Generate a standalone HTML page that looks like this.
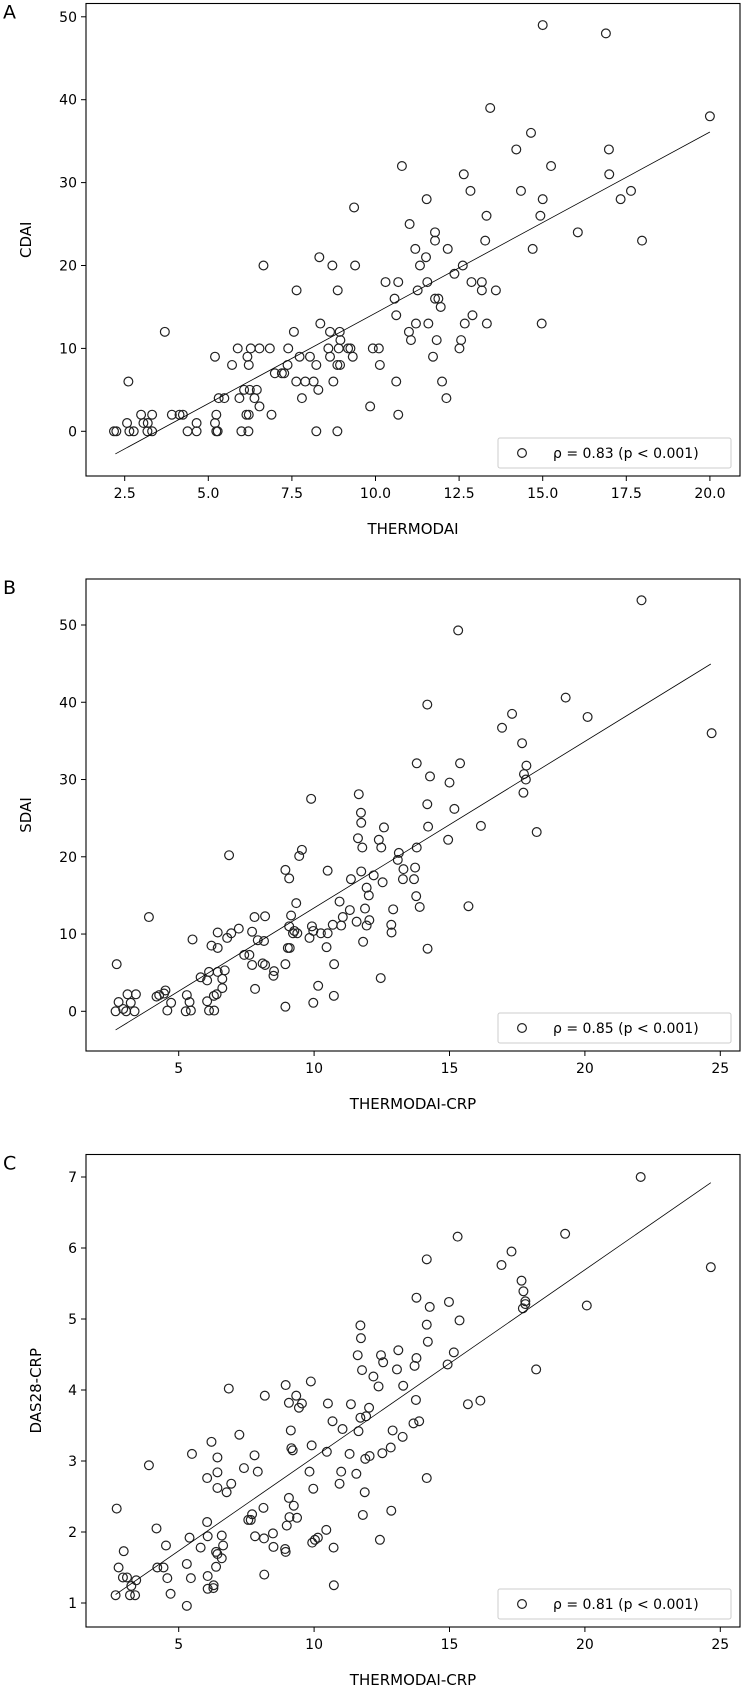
<!DOCTYPE html>
<html><head><meta charset="utf-8"><style>
html,body{margin:0;padding:0;background:#fff;}
svg{display:block;font-family:"DejaVu Sans","Liberation Sans",sans-serif;}
</style></head><body>
<svg id="chart" width="742" height="1687" viewBox="0 0 742 1687" xmlns="http://www.w3.org/2000/svg"></svg>
<script>
// Panel A data
const thermoA=[15.0,16.89,13.43,20,14.65,14.21,16.98,10.79,15.25,12.64,16.99,12.84,14.35,17.64,11.53,15,17.33,9.36,13.32,14.93,11.02,11.78,16.05,11.78,13.28,17.97,11.19,12.16,14.7,8.32,11.51,6.65,8.71,9.39,11.33,12.61,12.36,10.3,10.68,11.55,12.87,13.18,7.64,8.87,11.26,13.18,13.6,10.57,11.78,11.88,11.95,10.62,12.9,8.35,11.21,11.58,12.67,13.33,14.97,3.7,7.56,8.64,8.93,11.0,11.06,11.83,8.95,12.56,5.88,6.27,6.53,6.84,7.39,8.59,8.9,9.18,9.25,9.92,10.1,12.51,5.2,6.17,7.73,8.04,8.64,9.32,11.72,5.71,6.21,7.37,8.23,8.86,8.94,10.13,6.99,7.2,7.27,2.61,7.63,7.9,8.15,8.74,10.62,11.99,6.07,6.24,6.45,8.29,5.31,5.48,5.93,6.38,7.8,12.12,6.53,9.84,2.99,3.32,3.91,4.14,4.24,5.24,6.14,6.21,6.89,10.68,2.57,3.06,3.19,4.65,5.2,2.18,2.25,2.64,2.77,3.18,3.32,4.38,4.65,5.24,5.28,5.99,6.2,8.23,8.86];
const cdai=[49,48,39,38,36,34,34,32,32,31,31,29,29,29,28,28,28,27,26,26,25,24,24,23,23,23,22,22,22,21,21,20,20,20,20,20,19,18,18,18,18,18,17,17,17,17,17,16,16,16,15,14,14,13,13,13,13,13,13,12,12,12,12,12,11,11,11,11,10,10,10,10,10,10,10,10,10,10,10,10,9,9,9,9,9,9,9,8,8,8,8,8,8,8,7,7,7,6,6,6,6,6,6,6,5,5,5,5,4,4,4,4,4,4,3,3,2,2,2,2,2,2,2,2,2,2,1,1,1,1,1,0,0,0,0,0,0,0,0,0,0,0,0,0,0];
const xTicksA=[2.5,5.0,7.5,10.0,12.5,15.0,17.5,20.0];
const yTicksA=[0,10,20,30,40,50];
const fitA=[2.184,-7.58]; // slope, intercept
const fitRangeA=[2.22,20.0];

// Panel B data
const thermoB=[22.09,15.32,19.29,14.18,20.1,17.31,16.94,24.68,17.68,13.79,15.39,17.84,17.75,14.28,17.82,15.0,17.73,11.65,9.89,14.18,15.18,11.73,11.74,14.21,16.16,12.58,18.22,11.62,12.39,14.95,11.78,12.48,13.79,9.55,13.13,6.86,9.45,13.09,13.73,13.3,8.94,10.5,11.74,12.2,9.08,11.36,13.28,13.69,12.53,11.94,12.02,13.77,9.34,10.94,13.9,15.7,11.32,11.88,12.92,3.9,7.8,8.19,9.15,11.06,12.04,11.57,10.69,11.0,11.94,12.85,9.08,9.92,7.22,7.71,9.27,9.38,9.97,10.25,10.5,12.86,6.94,6.44,9.22,9.83,6.79,5.51,7.92,8.15,11.81,6.21,6.44,9.03,9.1,10.46,14.19,7.42,7.61,8.94,10.74,2.71,7.71,8.1,8.19,6.7,6.44,6.12,8.52,8.5,5.81,6.05,6.61,12.46,6.61,7.82,10.15,3.11,3.42,4.18,4.28,4.51,4.46,5.3,6.4,6.3,10.73,2.78,3.23,4.72,5.4,6.05,8.94,9.97,2.67,2.95,3.06,3.37,4.58,5.26,5.45,6.12,6.31];
const sdai=[53.2,49.3,40.6,39.7,38.1,38.5,36.7,36.0,34.7,32.1,32.1,31.8,30.7,30.4,30.0,29.6,28.3,28.1,27.5,26.8,26.2,25.7,24.4,23.9,24.0,23.8,23.2,22.4,22.2,22.2,21.2,21.2,21.2,20.9,20.5,20.2,20.1,19.6,18.6,18.4,18.3,18.2,18.1,17.6,17.2,17.1,17.1,17.1,16.7,16.0,15.0,14.9,14.0,14.2,13.5,13.6,13.1,13.3,13.2,12.2,12.2,12.3,12.4,12.2,11.8,11.6,11.2,11.1,11.1,11.2,11.0,11.0,10.7,10.3,10.4,10.1,10.4,10.1,10.1,10.2,10.1,10.2,10.1,9.5,9.5,9.3,9.2,9.1,9.0,8.5,8.2,8.2,8.2,8.3,8.1,7.3,7.3,6.1,6.1,6.1,6.0,6.2,6.0,5.3,5.1,5.1,5.2,4.6,4.4,4.0,4.2,4.3,3.0,2.9,3.3,2.2,2.2,1.9,2.1,2.7,2.3,2.1,2.2,2.0,2.0,1.2,1.1,1.1,1.2,1.3,0.6,1.1,0,0.3,0,0,0.1,0,0.1,0.1,0.1];
const xTicksB=[5,10,15,20,25];
const yTicksB=[0,10,20,30,40,50];
const fitB=[2.155,-8.17];
const fitRangeB=[2.67,24.65];

// Panel C data
const thermoC=[22.06,15.3,19.27,14.16,17.29,16.92,24.65,17.66,17.73,13.78,14.27,14.98,17.8,17.8,17.71,20.07,15.37,11.71,14.16,11.73,14.2,13.11,15.16,11.61,12.47,12.55,13.78,13.71,14.93,18.2,11.77,13.06,12.19,12.38,13.29,8.95,9.88,6.85,8.18,9.34,9.07,9.44,9.55,10.51,11.36,12.03,13.76,15.68,16.14,10.68,11.92,11.71,13.67,13.88,11.05,11.64,12.9,9.14,13.27,7.24,6.21,9.91,12.83,9.16,9.21,5.49,7.8,6.43,10.47,11.31,12.52,12.05,11.89,3.9,7.41,9.83,7.92,6.43,11.0,11.56,6.05,14.16,6.94,10.94,6.43,9.97,6.77,11.87,9.07,9.25,2.71,8.13,12.85,7.71,11.8,9.09,9.37,7.66,7.57,6.05,4.18,10.45,8.99,8.48,7.82,8.15,5.4,6.07,6.59,10.14,10.03,9.93,12.43,4.53,6.64,5.81,8.5,10.72,2.97,6.38,6.43,8.93,8.95,6.59,2.78,4.21,4.44,5.3,6.38,2.94,3.09,3.43,4.58,5.45,6.07,3.25,6.29,10.73,6.07,6.28,4.7,8.16,2.67,3.2,3.39,5.3];
const das28=[7.0,6.16,6.2,5.84,5.95,5.76,5.73,5.54,5.39,5.3,5.17,5.24,5.25,5.21,5.15,5.19,4.98,4.91,4.92,4.73,4.68,4.56,4.53,4.49,4.49,4.39,4.45,4.34,4.36,4.29,4.28,4.29,4.19,4.05,4.06,4.07,4.12,4.02,3.92,3.92,3.82,3.75,3.81,3.81,3.8,3.75,3.86,3.8,3.85,3.56,3.63,3.61,3.53,3.56,3.45,3.42,3.43,3.43,3.34,3.37,3.27,3.22,3.19,3.18,3.15,3.1,3.08,3.05,3.13,3.1,3.11,3.07,3.03,2.94,2.9,2.85,2.85,2.84,2.85,2.82,2.76,2.76,2.68,2.68,2.62,2.61,2.56,2.56,2.48,2.37,2.33,2.34,2.3,2.25,2.24,2.21,2.2,2.17,2.17,2.14,2.05,2.03,2.09,1.98,1.94,1.91,1.92,1.94,1.95,1.92,1.89,1.85,1.89,1.81,1.81,1.78,1.79,1.78,1.73,1.72,1.69,1.76,1.72,1.63,1.5,1.5,1.5,1.55,1.51,1.36,1.36,1.32,1.35,1.35,1.38,1.24,1.25,1.25,1.2,1.21,1.13,1.4,1.11,1.11,1.11,0.96];
const xTicksC=[5,10,15,20,25];
const yTicksC=[1,2,3,4,5,6,7];
const fitC=[0.2639,0.415];
const fitRangeC=[2.67,24.65];

const NS='http://www.w3.org/2000/svg';
const svg=document.getElementById('chart');
function mk(tag,attrs,parent){const e=document.createElementNS(NS,tag);for(const k in attrs)e.setAttribute(k,attrs[k]);(parent||svg).appendChild(e);return e;}

function panel(p){
  const g=mk('g',{});
  
  
  const sx=v=>p.x0+(v-p.xv0)*p.xs;
  const sy=v=>p.y0-(v-p.yv0)*p.ys;
  const L=mk('text',{x:3,y:p.top+15,'font-size':19,fill:'#000'},g);L.textContent=p.letter;
  
  
  const pg=mk('g',{},g);
  
  
  for(let i=0;i<p.xs_.length;i++){
    const c=mk('circle',{cx:sx(p.xs_[i]),cy:sy(p.ys_[i]),r:4.4,fill:'none',stroke:'#222','stroke-width':1.2},pg);
    
    
  }
  const fl=mk('line',{x1:sx(p.fr[0]),y1:sy(p.fit[0]*p.fr[0]+p.fit[1]),x2:sx(p.fr[1]),y2:sy(p.fit[0]*p.fr[1]+p.fit[1]),stroke:'#000','stroke-width':0.8},g);
  
  
  const fr=mk('rect',{x:86,y:p.top,width:654,height:p.bottom-p.top,fill:'none',stroke:'#000','stroke-width':1.1},g);
  
  
  p.xt.forEach((v,i)=>{
    const X=sx(v);
    const t=mk('line',{x1:X,y1:p.bottom,x2:X,y2:p.bottom+5,stroke:'#000','stroke-width':1},g);
    
    
    const tl=mk('text',{x:X,y:p.bottom+22,'font-size':14,'text-anchor':'middle',fill:'#000'},g);
    tl.textContent=p.xtl?p.xtl[i]:String(v);
    
    
  });
  p.yt.forEach(v=>{
    const Y=sy(v);
    const t=mk('line',{x1:81,y1:Y,x2:86,y2:Y,stroke:'#000','stroke-width':1},g);
    
    
    const tl=mk('text',{x:77,y:Y+5,'font-size':14,'text-anchor':'end',fill:'#000'},g);
    tl.textContent=String(v);
    
    
  });
  const xl=mk('text',{x:413,y:p.bottom+58,'font-size':15,'text-anchor':'middle',fill:'#000'},g);
  xl.textContent=p.xlabel;
  
  
  const cy=(p.top+p.bottom)/2;
  const yl=mk('text',{x:p.ylx,y:cy,'font-size':15,'text-anchor':'middle',fill:'#000',transform:'rotate(-90 '+p.ylx+' '+cy+')'},g);
  yl.textContent=p.ylabel;
  
  
  const lg=mk('g',{},g);
  
  
  mk('rect',{x:498,y:p.bottom-38,width:233,height:30,rx:2,fill:'#fff','fill-opacity':0.8,stroke:'#ccc','stroke-width':1},lg);
  mk('circle',{cx:522,cy:p.bottom-23,r:4.4,fill:'none',stroke:'#222','stroke-width':1.2},lg);
  const lt=mk('text',{x:553,y:p.bottom-18,'font-size':14,fill:'#000'},lg);
  lt.textContent=p.legend;
}

panel({id:'cdai',letter:'A',top:3.5,bottom:476,x0:124.7,xv0:2.5,xs:33.44,y0:431.3,yv0:0,ys:8.29,
  xs_:thermoA,ys_:cdai,xt:xTicksA,xtl:['2.5','5.0','7.5','10.0','12.5','15.0','17.5','20.0'],yt:yTicksA,fit:fitA,fr:fitRangeA,
  xlabel:'THERMODAI',ylabel:'CDAI',ylx:31,legend:'ρ = 0.83 (p < 0.001)'});
panel({id:'sdai',letter:'B',top:579,bottom:1051,x0:178.7,xv0:5,xs:27.08,y0:1011.3,yv0:0,ys:7.726,
  xs_:thermoB,ys_:sdai,xt:xTicksB,yt:yTicksB,fit:fitB,fr:fitRangeB,
  xlabel:'THERMODAI-CRP',ylabel:'SDAI',ylx:31,legend:'ρ = 0.85 (p < 0.001)'});
panel({id:'das28',letter:'C',top:1154.5,bottom:1627,x0:178.7,xv0:5,xs:27.08,y0:1603,yv0:1,ys:71,
  xs_:thermoC,ys_:das28,xt:xTicksC,yt:yTicksC,fit:fitC,fr:fitRangeC,
  xlabel:'THERMODAI-CRP',ylabel:'DAS28-CRP',ylx:41,legend:'ρ = 0.81 (p < 0.001)'});
</script>
</body></html>
